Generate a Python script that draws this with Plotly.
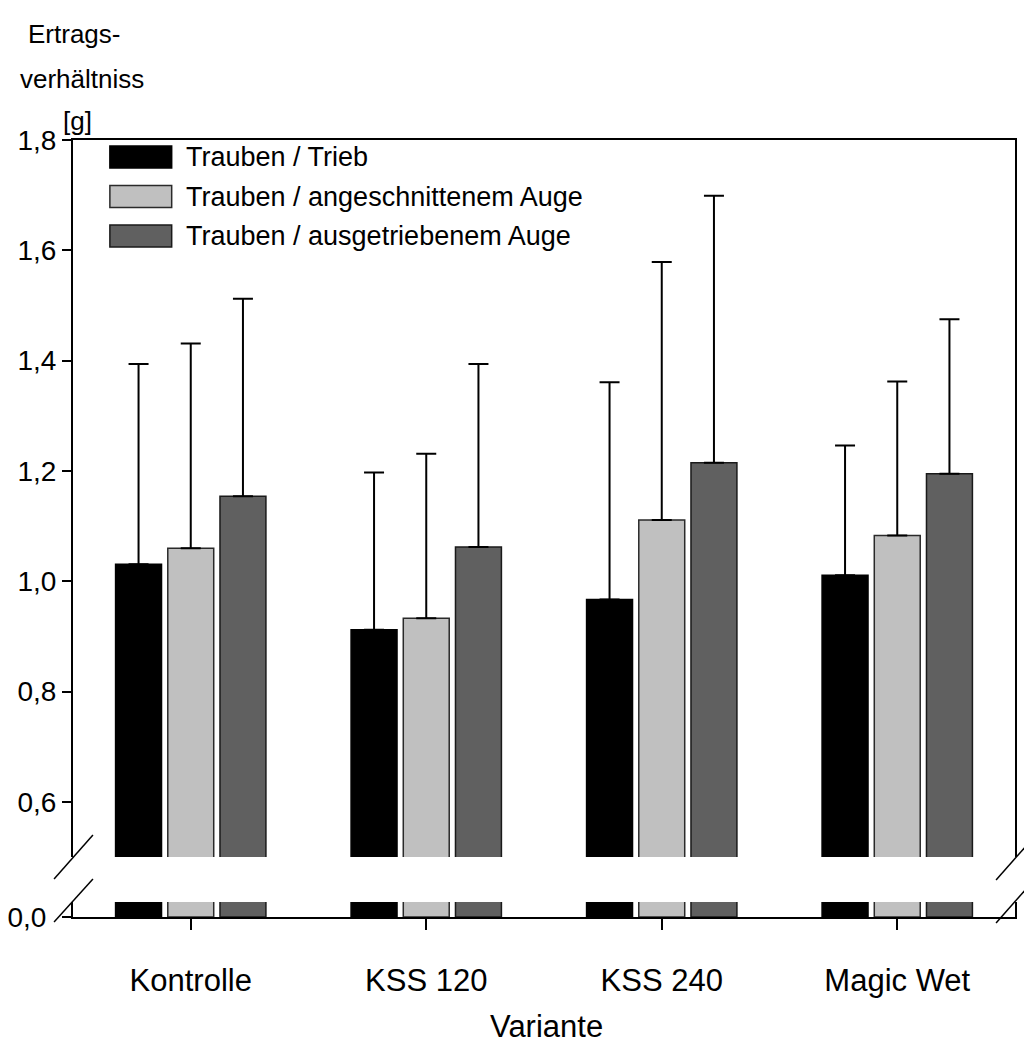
import plotly.graph_objects as go

# Varianten (x categories) and the three ratio series with their upper error bars
varianten = ["Kontrolle", "KSS 120", "KSS 240", "Magic Wet"]
serien = ["Trauben / Trieb", "Trauben / angeschnittenem Auge", "Trauben / ausgetriebenem Auge"]

trieb = [1.031, 0.912, 0.967, 1.011]
trieb_err = [0.363, 0.285, 0.394, 0.235]
angeschnitten = [1.060, 0.933, 1.111, 1.083]
angeschnitten_err = [0.371, 0.298, 0.468, 0.279]
ausgetrieben = [1.154, 1.062, 1.215, 1.195]
ausgetrieben_err = [0.358, 0.332, 0.484, 0.280]

y_tickvals = [0.6, 0.8, 1.0, 1.2, 1.4, 1.6, 1.8]
y_ticktext = ["0,6", "0,8", "1,0", "1,2", "1,4", "1,6", "1,8"]
y_low_tickvals = [0.0]
y_low_ticktext = ["0,0"]

werte = [trieb, angeschnitten, ausgetrieben]
fehler = [trieb_err, angeschnitten_err, ausgetrieben_err]
fuellung = ["#000000", "#c0c0c0", "#606060"]
rand = ["#000000", "#2a2a2a", "#1a1a1a"]

FONT = "Liberation Sans, Arial, sans-serif"
W, H = 1024, 1046
ML, MR, MT, MB = 72, 7, 140, 129
PW, PH = W - ML - MR, H - MT - MB


def px_x(x):
    return (x - ML) / PW


def px_y(y):
    return (H - MB - y) / PH


# broken y axis: lower strip near zero, upper panel 0.5 .. 1.8
upper_dom = [px_y(857), 1.0]
lower_dom = [0.0, px_y(902)]
upper_range = [0.5, 1.8]
scale = (upper_range[1] - upper_range[0]) / ((upper_dom[1] - upper_dom[0]) * PH)
lower_range = [0.0, scale * (lower_dom[1] - lower_dom[0]) * PH]

fig = go.Figure()
for name, vals, errs, fc, lc in zip(serien, werte, fehler, fuellung, rand):
    fig.add_trace(go.Bar(
        x=varianten, y=vals, name=name, xaxis="x", yaxis="y",
        marker=dict(color=fc, line=dict(color=lc, width=1.5)),
        showlegend=False, hoverinfo="skip",
    ))
    fig.add_trace(go.Bar(
        x=varianten, y=vals, name=name, xaxis="x2", yaxis="y2",
        marker=dict(color=fc, line=dict(color=lc, width=1.5)),
        error_y=dict(type="data", array=errs, symmetric=False,
                     arrayminus=[0] * len(errs), color="#000000",
                     thickness=2, width=10),
        showlegend=False,
    ))

shapes = []
# axis break marks
for (x0, y0, x1, y1) in [(53, 879, 92, 835), (53, 922, 92, 879),
                         (998, 880, 1037, 836), (998, 923, 1037, 879)]:
    shapes.append(dict(type="line", xref="paper", yref="paper",
                       x0=px_x(x0), y0=px_y(y0), x1=px_x(x1), y1=px_y(y1),
                       line=dict(color="#000000", width=1.5)))

annotations = []
# legend drawn as swatches plus labels
for i, (name, fc, lc) in enumerate(zip(serien, fuellung, rand)):
    cy = 157 + i * 39.5
    shapes.append(dict(type="rect", xref="paper", yref="paper",
                       x0=px_x(109), x1=px_x(171), y0=px_y(cy + 11), y1=px_y(cy - 11),
                       fillcolor=fc, line=dict(color=lc, width=1.5)))
    annotations.append(dict(text=name, xref="paper", yref="paper",
                            x=px_x(183), y=px_y(cy), xanchor="left", yanchor="middle",
                            showarrow=False, font=dict(size=27, color="#000000")))

# y axis title, three stacked lines
for txt, cx, cy in [("Ertrags-", 73, 34), ("verhältniss", 81, 79), ("[g]", 77, 121)]:
    annotations.append(dict(text=txt, xref="paper", yref="paper",
                            x=px_x(cx), y=px_y(cy), xanchor="center", yanchor="middle",
                            showarrow=False, font=dict(size=26, color="#000000")))

annotations.append(dict(text="Variante", xref="paper", yref="paper",
                        x=px_x(547), y=px_y(1026), xanchor="center", yanchor="middle",
                        showarrow=False, font=dict(size=31, color="#000000")))

axis_common = dict(showgrid=False, zeroline=False, linecolor="#000000", linewidth=2)

fig.update_layout(
    width=W, height=H,
    margin=dict(l=ML, r=MR, t=MT, b=MB, pad=0),
    paper_bgcolor="#ffffff", plot_bgcolor="#ffffff",
    font=dict(family=FONT, color="#000000"),
    barmode="group", bargap=0.335, bargroupgap=0.12,
    showlegend=False,
    xaxis=dict(axis_common, domain=[0, 1], anchor="y", type="category",
               categoryorder="array", categoryarray=varianten,
               range=[-0.5, 3.5], showline=True, ticks="outside",
               ticklen=11, tickwidth=2, tickcolor="#000000",
               tickfont=dict(size=31), ticklabelstandoff=24),
    xaxis2=dict(axis_common, domain=[0, 1], anchor="y2", type="category",
                categoryorder="array", categoryarray=varianten,
                range=[-0.5, 3.5], showline=True, side="top",
                ticks="", showticklabels=False),
    yaxis=dict(axis_common, domain=lower_dom, anchor="x", range=lower_range,
               showline=True, mirror=True, ticks="outside", ticklen=9,
               tickwidth=2, tickcolor="#000000",
               tickvals=y_low_tickvals, ticktext=y_low_ticktext,
               tickfont=dict(size=28), ticklabelstandoff=10),
    yaxis2=dict(axis_common, domain=upper_dom, anchor="x2", range=upper_range,
                showline=True, mirror=True, ticks="outside", ticklen=9,
                tickwidth=2, tickcolor="#000000",
                tickvals=y_tickvals, ticktext=y_ticktext,
                tickfont=dict(size=28), ticklabelstandoff=0),
    shapes=shapes,
    annotations=annotations,
)

fig.write_html("out.html")
